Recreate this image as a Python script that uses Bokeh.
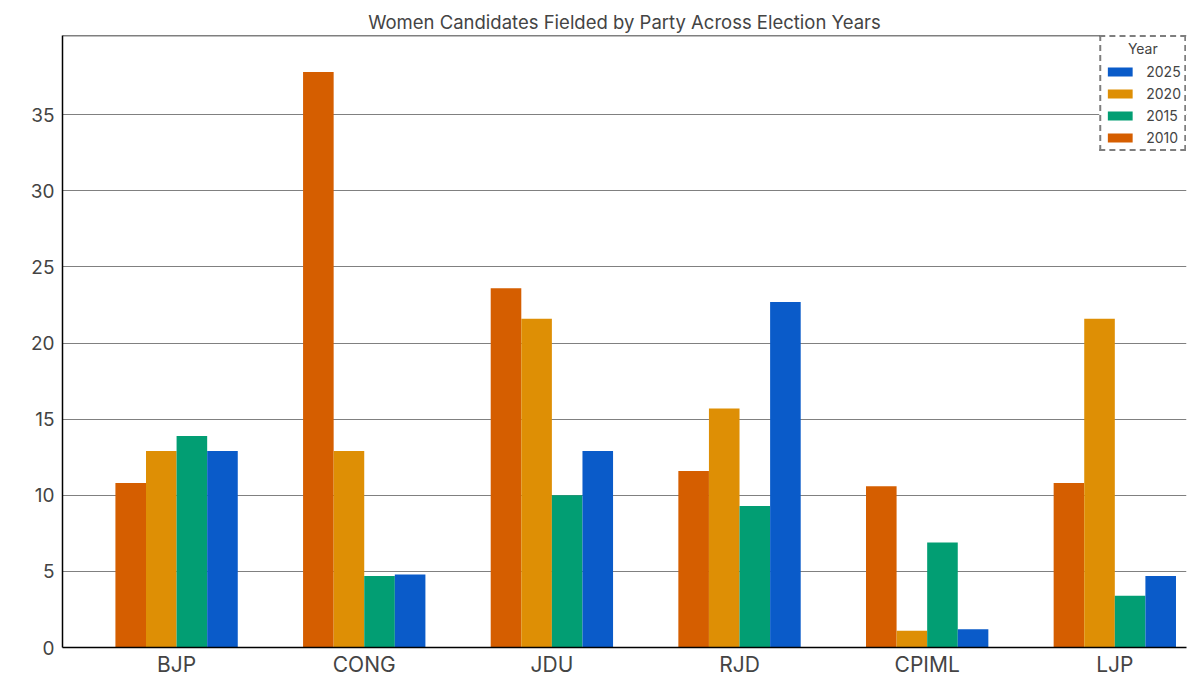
from bokeh.plotting import figure
from bokeh.models import (ColumnDataSource, Range1d, FixedTicker, Legend, LegendItem, Span)
from bokeh.transform import dodge
from bokeh.embed import file_html
from bokeh.resources import INLINE

parties = ["BJP", "CONG", "JDU", "RJD", "CPIML", "LJP"]
years = ["2010", "2020", "2015", "2025"]
v2010 = [10.8, 37.8, 23.6, 11.6, 10.6, 10.8]
v2020 = [12.9, 12.9, 21.6, 15.7, 1.1, 21.6]
v2015 = [13.9, 4.7, 10.0, 9.3, 6.9, 3.4]
v2025 = [12.9, 4.8, 12.9, 22.7, 1.2, 4.7]
colors = {"2010": "#d55e00", "2020": "#de8f05", "2015": "#029e73", "2025": "#0a5bc9"}
y_ticks = [0, 5, 10, 15, 20, 25, 30, 35]
title_text = "Women Candidates Fielded by Party Across Election Years"
legend_title = "Year"

FONT = "Inter"
src = ColumnDataSource(dict(x=list(range(len(parties))), y2010=v2010, y2020=v2020,
                            y2015=v2015, y2025=v2025))

y_end = 40.2
p = figure(width=1200, height=700, output_backend="svg", toolbar_location=None,
           x_range=Range1d(-0.608, 5.382), y_range=Range1d(0, y_end),
           min_border_left=62, min_border_right=14, min_border_top=35, min_border_bottom=53)
p.title.text = title_text
p.title.align = "center"
p.title.text_font = FONT
p.title.text_font_size = "18.5px"
p.title.text_font_style = "normal"
p.title.standoff = 6
p.outline_line_color = None

w = 0.163
offsets = [-1.5 * w, -0.5 * w, 0.5 * w, 1.5 * w]
renderers = {}
for yr, off in zip(years, offsets):
    renderers[yr] = p.vbar(x=dodge("x", off), top="y" + yr, width=w, bottom=0,
                           source=src, fill_color=colors[yr], line_color=None)

top_line = Span(location=y_end, dimension="width", line_color="black", line_width=1.5)
p.add_layout(top_line)

p.xaxis.ticker = FixedTicker(ticks=list(range(len(parties))))
p.xaxis.major_label_overrides = {i: name for i, name in enumerate(parties)}
p.xaxis.major_tick_line_color = None
p.xaxis.minor_tick_line_color = None
p.xaxis.major_tick_out = 0
p.xaxis.minor_tick_out = 0
p.xaxis.major_label_text_font = FONT
p.xaxis.major_label_text_font_size = "21px"
p.xaxis.major_label_standoff = 4
p.xaxis.axis_line_color = "black"
p.xaxis.axis_line_width = 1.5

p.yaxis.ticker = FixedTicker(ticks=y_ticks)
p.yaxis.major_tick_line_color = None
p.yaxis.minor_tick_line_color = None
p.yaxis.major_tick_out = 0
p.yaxis.minor_tick_out = 0
p.yaxis.major_label_text_font = FONT
p.yaxis.major_label_text_font_size = "19px"
p.yaxis.major_label_standoff = 8
p.yaxis.axis_line_color = "black"
p.yaxis.axis_line_width = 1.5

p.xgrid.grid_line_color = None
p.ygrid.grid_line_color = "#808080"
p.ygrid.grid_line_width = 1

legend = Legend(items=[LegendItem(label=yr, renderers=[renderers[yr]]) for yr in ["2025", "2020", "2015", "2010"]],
                location="top_right", title="\u00a0" * 6 + legend_title)
legend.margin = 0
legend.padding = 3
legend.spacing = 5
legend.glyph_width = 31
legend.glyph_height = 11
legend.label_standoff = 11
legend.label_text_font = FONT
legend.label_text_font_size = "14px"
legend.title_text_font = FONT
legend.title_text_font_size = "14px"
legend.title_text_font_style = "normal"
legend.title_standoff = 6
legend.border_line_color = "black"
legend.border_line_dash = "1 2"
legend.border_line_width = 2
legend.background_fill_alpha = 1
p.add_layout(legend)

open("out.html", "w").write(file_html(p, INLINE))
